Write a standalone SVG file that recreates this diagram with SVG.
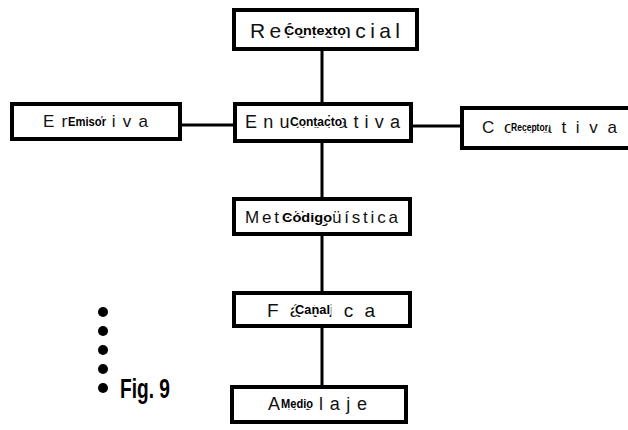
<svg xmlns="http://www.w3.org/2000/svg" width="628" height="430" viewBox="0 0 628 430">
<style>
.box{fill:#fff;stroke:#000;stroke-width:4}
.big{font-family:"Liberation Sans",Arial,sans-serif;fill:#111}
.small{font-family:"Liberation Sans",Arial,sans-serif;font-weight:bold;fill:#000;stroke:#fff;stroke-width:3;paint-order:stroke;stroke-linejoin:round}
.con{stroke:#000;stroke-width:3;fill:none}
</style>
<rect width="628" height="430" fill="#fff"/>
<g id="connectors">
<line class="con" x1="322" y1="49" x2="322" y2="387"/>
<line class="con" x1="180" y1="125" x2="235" y2="125"/>
<line class="con" x1="411" y1="126" x2="462" y2="126"/>
</g>
<g id="referencial">
<rect class="box" x="234" y="10" width="183" height="39"/>
<text class="big" x="250" y="38" font-size="21" textLength="150" lengthAdjust="spacing">Referencial</text>
<text class="small" x="284" y="35" font-size="12" textLength="62" lengthAdjust="spacingAndGlyphs">Contexto</text>
</g>
<g id="emotiva">
<rect class="box" x="12" y="104" width="168" height="35"/>
<text class="big" x="43" y="127" font-size="17" textLength="105" lengthAdjust="spacing">Emotiva</text>
<text class="small" x="68" y="126" font-size="12" textLength="38" lengthAdjust="spacingAndGlyphs">Emisor</text>
</g>
<g id="enunciativa">
<rect class="box" x="235" y="104" width="176" height="37"/>
<text class="big" x="245" y="128" font-size="18" textLength="155" lengthAdjust="spacing">Enunciativa</text>
<text class="small" x="290" y="126" font-size="12" textLength="52" lengthAdjust="spacingAndGlyphs">Contacto</text>
</g>
<g id="conativa">
<rect class="box" x="462" y="108" width="170" height="40"/>
<text class="big" x="482" y="133" font-size="17" textLength="135" lengthAdjust="spacing">Conativa</text>
<text class="small" x="511" y="131" font-size="10" textLength="37" lengthAdjust="spacingAndGlyphs">Receptor</text>
</g>
<g id="metalinguistica">
<rect class="box" x="234" y="199" width="176" height="35"/>
<text class="big" x="245" y="223" font-size="17" textLength="153" lengthAdjust="spacing">Metalingüística</text>
<text class="small" x="282" y="222" font-size="13" textLength="50" lengthAdjust="spacingAndGlyphs">Código</text>
</g>
<g id="fatica">
<rect class="box" x="234" y="293" width="176" height="33"/>
<text class="big" x="267" y="317" font-size="19" textLength="108" lengthAdjust="spacing">Fática</text>
<text class="small" x="295" y="314" font-size="12" textLength="35" lengthAdjust="spacingAndGlyphs">Canal</text>
</g>
<g id="anclaje">
<rect class="box" x="232" y="387" width="174" height="35"/>
<text class="big" x="268" y="410" font-size="18" textLength="99" lengthAdjust="spacing">Anclaje</text>
<text class="small" x="281" y="408" font-size="13" textLength="32" lengthAdjust="spacingAndGlyphs">Medio</text>
</g>
<g id="legend">
<circle cx="103" cy="312" r="5" fill="#000"/>
<circle cx="103" cy="331" r="5" fill="#000"/>
<circle cx="103" cy="350" r="5" fill="#000"/>
<circle cx="103" cy="369" r="5" fill="#000"/>
<circle cx="103" cy="388" r="5" fill="#000"/>
<text x="120" y="398" font-family="Liberation Sans Narrow,Liberation Sans,Arial,sans-serif" font-size="28" font-weight="bold" textLength="50" lengthAdjust="spacingAndGlyphs" fill="#000">Fig. 9</text>
</g>
</svg>
